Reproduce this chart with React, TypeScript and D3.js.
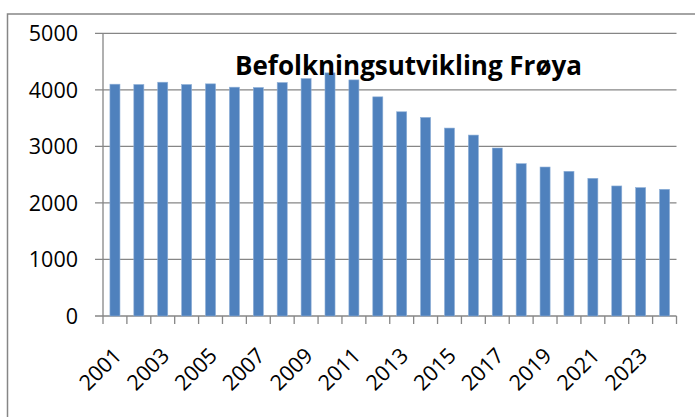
import React from "react";
import * as d3 from "d3";

const years: number[] = [2001, 2002, 2003, 2004, 2005, 2006, 2007, 2008, 2009, 2010, 2011, 2012, 2013, 2014, 2015, 2016, 2017, 2018, 2019, 2020, 2021, 2022, 2023, 2024];
const population: number[] = [4100, 4094, 4135, 4094, 4106, 4047, 4041, 4129, 4200, 4300, 4176, 3876, 3612, 3512, 3324, 3200, 2971, 2694, 2635, 2559, 2435, 2300, 2271, 2241];
const yTicks: number[] = [0, 1000, 2000, 3000, 4000, 5000];
const title = "Befolkningsutvikling Frøya";

const W = 695;
const H = 417;
const left = 103;
const right = 676.5;
const top = 33.3;
const bottom = 316;

export default function App() {
  const x = d3.scaleBand<number>().domain(years).range([left, right]).paddingInner(0.58).paddingOuter(0.29);
  const xb = d3.scaleBand<number>().domain(years).range([left, right]);
  const y = d3.scaleLinear().domain([0, 5000]).range([bottom, top]);
  const font = "'Open Sans', 'Liberation Sans', sans-serif";
  const gridColor = "#868686";
  return (
    <svg width={W} height={H} style={{ position: "absolute", left: 0, top: 0, background: "#fff" }} fontFamily={font}>
      <rect x={7.5} y={14} width={W + 20} height={H + 20} fill="#fff" stroke={gridColor} strokeWidth={1.5} />
      {yTicks.map((t) => (
        <g key={t}>
          <line x1={left - 8} x2={right} y1={y(t)} y2={y(t)} stroke={gridColor} strokeWidth={1.3} />
          <text x={78} y={y(t)} dy="0.36em" textAnchor="end" fontSize={21.5} fill="#000">{t}</text>
        </g>
      ))}
      <line x1={left} x2={left} y1={top} y2={bottom} stroke={gridColor} strokeWidth={1.3} />
      {years.map((yr) => (
        <line key={"t" + yr} x1={xb(yr)!} x2={xb(yr)!} y1={bottom} y2={bottom + 8} stroke={gridColor} strokeWidth={1.3} />
      ))}
      <line x1={right} x2={right} y1={bottom} y2={bottom + 8} stroke={gridColor} strokeWidth={1.3} />
      {years.map((yr, i) => (
        <rect key={yr} x={x(yr)!} y={y(population[i])} width={x.bandwidth()} height={bottom - y(population[i])} fill="#4F81BD" stroke="#8FB0D8" strokeWidth={0.6} />
      ))}
      {years.filter((_, i) => i % 2 === 0).map((yr) => {
        const cx = xb(yr)! + xb.bandwidth() / 2 + 8;
        const cy = 357;
        return (
          <text key={"l" + yr} x={cx} y={cy} textAnchor="end" fontSize={21.5} fill="#000" transform={`rotate(-45 ${cx} ${cy})`}>{yr}</text>
        );
      })}
      <text x={408.5} y={75} textAnchor="middle" fontSize={26} fontWeight="bold" fill="#000" textLength={347} lengthAdjust="spacingAndGlyphs">{title}</text>
    </svg>
  );
}
